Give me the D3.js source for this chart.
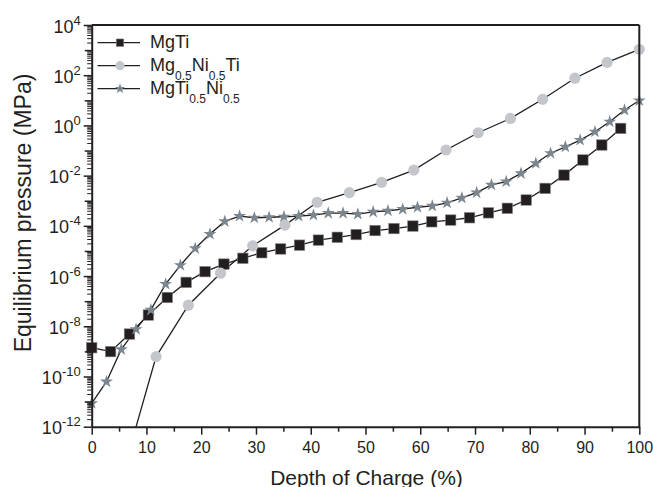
<!DOCTYPE html>
<html>
<head>
<meta charset="utf-8">
<script src="https://cdn.jsdelivr.net/npm/d3@7"></script>
<style>
body { margin: 0; background: #fff; }
svg { font-family: "Liberation Sans", Arial, sans-serif; fill: #231f20; }
.axis path, .axis line { stroke: #231f20; }
.series path.line { fill: none; stroke: #231f20; stroke-width: 1.3px; }
</style>
</head>
<body>
<svg width="653" height="487"></svg>
<script>
// depth of charge (%) and equilibrium pressure (MPa)
var mgtiX = [0, 3.45, 6.9, 10.35, 13.8, 17.25, 20.7, 24.15, 27.6, 31.05, 34.5, 37.95, 41.4, 44.85,
  48.3, 51.75, 55.2, 58.65, 62.1, 65.55, 69.0, 72.45, 75.9, 79.35, 82.8, 86.25, 89.7, 93.15, 96.6];
var mgtiP = [1.4e-9, 9.8e-10, 4.9e-9, 2.8e-8, 1.4e-7, 5.6e-7, 1.5e-6, 3.0e-6, 5.1e-6, 8.5e-6, 1.2e-5,
  1.7e-5, 2.7e-5, 3.5e-5, 4.5e-5, 6.5e-5, 7.8e-5, 9.8e-5, 1.45e-4, 1.7e-4, 2.1e-4, 3.3e-4, 5.0e-4,
  1.07e-3, 3.1e-3, 1.05e-2, 4.2e-2, 0.166, 0.76];

var mgniX = [5.88, 11.76, 17.65, 23.53, 29.41, 35.29, 41.18, 47.06, 52.94, 58.82, 64.71, 70.59,
  76.47, 82.35, 88.24, 94.12, 100];
var mgniP = [2e-14, 6.2e-10, 6.9e-8, 1.3e-6, 1.6e-5, 1.07e-4, 8.7e-4, 2.1e-3, 5.4e-3, 1.66e-2,
  0.105, 0.51, 1.9, 11, 76, 324, 1070];

var tiniX = [0, 2.7, 5.4, 8.1, 10.8, 13.5, 16.2, 18.9, 21.6, 24.3, 27.0, 29.7, 32.4, 35.1, 37.8,
  40.5, 43.2, 45.9, 48.6, 51.4, 54.1, 56.8, 59.5, 62.2, 64.9, 67.6, 70.3, 73.0, 75.7, 78.4, 81.1,
  83.8, 86.5, 89.2, 91.9, 94.6, 97.3, 100];
var tiniP = [8.5e-12, 6.2e-11, 1.2e-9, 7.6e-9, 4.5e-8, 4.8e-7, 2.7e-6, 1.26e-5, 4.7e-5, 1.5e-4,
  2.45e-4, 2.1e-4, 2.2e-4, 2.3e-4, 2.45e-4, 2.7e-4, 3.2e-4, 3.2e-4, 2.95e-4, 3.6e-4, 4.0e-4,
  4.6e-4, 5.5e-4, 6.2e-4, 8.3e-4, 1.3e-3, 2.1e-3, 4.3e-3, 5.8e-3, 1.23e-2, 3.1e-2, 7.8e-2, 0.14,
  0.26, 0.56, 1.4, 4.1, 9.8];

var xTicks = [0, 10, 20, 30, 40, 50, 60, 70, 80, 90, 100];
var yLabelExp = [4, 2, 0, -2, -4, -6, -8, -10, -12];

var svg = d3.select("svg");
var pL = 91.7, pR = 639.3, pT = 25, pB = 426.7;

var x = d3.scaleLinear().domain([0, 100]).range([pL, pR]);
var y = d3.scaleLog().domain([1e-12, 1e4]).range([pB, pT]);

var series = [
  {name: [["MgTi", ""]], xs: mgtiX, ps: mgtiP, shape: "square", fill: "#231f20"},
  {name: [["Mg", "0.5"], ["Ni", "0.5"], ["Ti", ""]], xs: mgniX, ps: mgniP, shape: "circle", fill: "#c3c6cb"},
  {name: [["MgTi", "0.5"], ["Ni", "0.5"]], xs: tiniX, ps: tiniP, shape: "star", fill: "#7b868f"}
];
series.forEach(function (s) {
  s.dat = s.xs.map(function (v, i) { return {x: v, p: s.ps[i]}; });
});

svg.append("clipPath").attr("id", "plot")
  .append("rect").attr("x", pL).attr("y", pT)
  .attr("width", pR - pL).attr("height", pB - pT);

var line = d3.line().x(d => x(d.x)).y(d => y(d.p));

// lines
svg.append("g").attr("class", "series").attr("clip-path", "url(#plot)")
  .selectAll("path").data(series)
  .enter().append("path").attr("class", "line")
  .attr("d", d => line(d.dat));

function marker(sel, shape, fill, big) {
  if (shape === "square") {
    var a = big ? 10.5 : 7.5;
    sel.append("rect").attr("x", -a / 2).attr("y", -a / 2).attr("width", a).attr("height", a)
      .attr("fill", fill).attr("stroke", "#8a8a8a").attr("stroke-width", 0.6);
  } else if (shape === "circle") {
    sel.append("circle").attr("r", big ? 5.6 : 4.6).attr("fill", fill);
  } else {
    sel.append("path").attr("d", d3.symbol().type(d3.symbolStar).size(big ? 52 : 34))
      .attr("fill", fill);
  }
}

// markers: squares, stars, then circles
[series[0], series[2], series[1]].forEach(function (s) {
  var g = svg.append("g").selectAll("g")
    .data(s.dat.filter(d => d.p >= 1e-12))
    .enter().append("g")
    .attr("transform", d => "translate(" + x(d.x) + "," + y(d.p) + ")");
  marker(g, s.shape, s.fill, true);
});

// x axis
var xMinor = d3.range(5, 100, 10);
svg.append("g").attr("class", "axis")
  .attr("transform", "translate(0," + pB + ")")
  .call(d3.axisBottom(x).tickValues(xMinor).tickSize(5).tickFormat(""))
  .call(g => g.select(".domain").remove())
  .selectAll("line").attr("stroke-width", 1.5);
var xa = svg.append("g").attr("class", "axis")
  .attr("transform", "translate(0," + pB + ")")
  .call(d3.axisBottom(x).tickValues(xTicks).tickSize(8).tickSizeOuter(0).tickPadding(7).tickFormat(d3.format("d")));
xa.selectAll("line").attr("stroke-width", 1.5);
xa.select(".domain").attr("stroke-width", 2);
xa.selectAll("text").attr("font-size", 16).attr("font-family", "Liberation Sans, Arial, sans-serif")
  .attr("fill", "#231f20");

// y axis minor ticks
var yMinor = [];
for (var k = -12; k < 4; k++) {
  for (var m = 2; m <= 9; m++) yMinor.push(m * Math.pow(10, k));
}
var yOdd = [];
for (var k2 = -11; k2 < 4; k2 += 2) yOdd.push(Math.pow(10, k2));

svg.append("g").attr("class", "axis").attr("transform", "translate(" + pL + ",0)")
  .call(d3.axisLeft(y).tickValues(yMinor).tickSize(4.5).tickFormat(""))
  .call(g => g.select(".domain").remove())
  .selectAll("line").attr("stroke-width", 1);
svg.append("g").attr("class", "axis").attr("transform", "translate(" + pL + ",0)")
  .call(d3.axisLeft(y).tickValues(yOdd).tickSize(7).tickFormat(""))
  .call(g => g.select(".domain").remove())
  .selectAll("line").attr("stroke-width", 1.5);

var ya = svg.append("g").attr("class", "axis").attr("transform", "translate(" + pL + ",0)")
  .call(d3.axisLeft(y).tickValues(yLabelExp.map(e => Math.pow(10, e))).tickSize(8).tickSizeOuter(0)
    .tickFormat(""));
ya.selectAll("line").attr("stroke-width", 1.5);
ya.select(".domain").attr("stroke-width", 2);
ya.selectAll(".tick text").remove();
ya.selectAll(".tick").append("text")
  .attr("x", -11).attr("dy", 7).attr("text-anchor", "end")
  .attr("font-size", 18).attr("fill", "#231f20")
  .attr("font-family", "Liberation Sans, Arial, sans-serif")
  .each(function (d) {
    var t = d3.select(this);
    t.append("tspan").text("10");
    t.append("tspan").attr("font-size", 13).attr("dy", -8)
      .text(String(Math.round(Math.log10(d))));
  });

// frame: top and right
svg.append("line").attr("x1", pL).attr("x2", pR).attr("y1", pT).attr("y2", pT)
  .attr("stroke", "#231f20").attr("stroke-width", 2);
svg.append("line").attr("x1", pR).attr("x2", pR).attr("y1", pT).attr("y2", pB + 1)
  .attr("stroke", "#231f20").attr("stroke-width", 2);

// axis titles
svg.append("text").attr("x", (pL + pR) / 2 + 1).attr("y", 485)
  .attr("text-anchor", "middle").attr("font-size", 21).text("Depth of Charge (%)");
svg.append("text").attr("transform", "translate(31,213) rotate(-90)")
  .attr("text-anchor", "middle").attr("font-size", 23).text("Equilibrium pressure (MPa)");

// legend
var leg = svg.append("g").selectAll("g").data(series)
  .enter().append("g")
  .attr("transform", (d, i) => "translate(0," + (48.3 + i * 23) + ")");
leg.append("line").attr("x1", 97.5).attr("x2", 140).attr("y1", -5.6).attr("y2", -5.6)
  .attr("stroke", "#231f20").attr("stroke-width", 1.3);
leg.each(function (s) {
  var g = d3.select(this).append("g").attr("transform", "translate(120,-5.6)");
  marker(g, s.shape, s.fill, false);
  var t = d3.select(this).append("text").attr("x", 150).attr("font-size", 18);
  var shift = 0;
  s.name.forEach(function (p) {
    t.append("tspan").attr("dy", -shift).text(p[0]);
    shift = 0;
    if (p[1]) {
      t.append("tspan").attr("font-size", 12).attr("dy", 9).text(p[1]);
      shift = 9;
    }
  });
});
</script>
</body>
</html>
